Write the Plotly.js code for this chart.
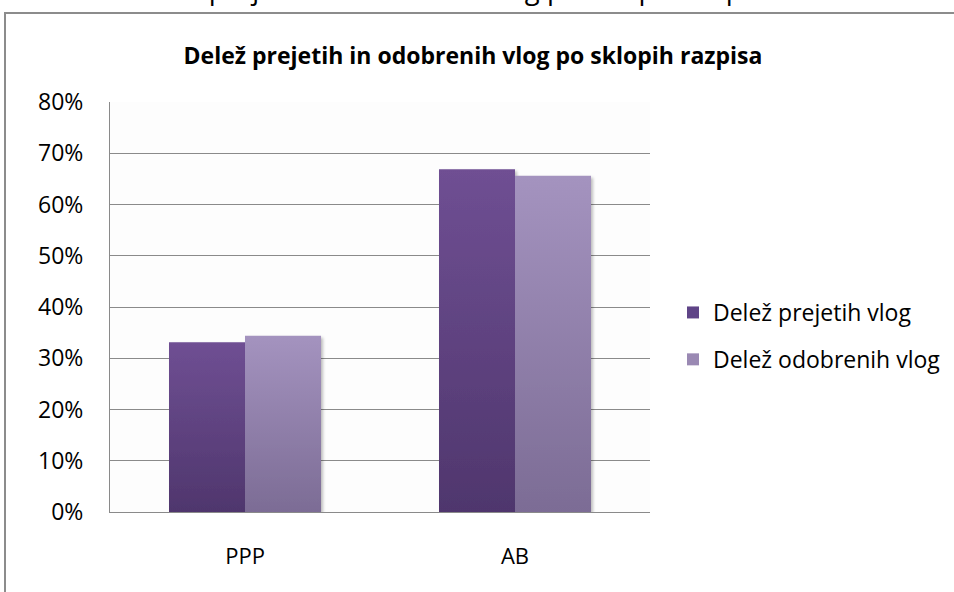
<!DOCTYPE html>
<html>
<head>
<meta charset="utf-8">
<script src="https://cdn.plot.ly/plotly-3.0.1.min.js"></script>
<style>
  html, body { margin: 0; padding: 0; background: #ffffff; }
  #chart { width: 954px; height: 592px; }
</style>
</head>
<body>
<div id="chart"></div>
<script>
// ---- data ----
const categories = ['PPP', 'AB'];
const seriesNames = ['Delež prejetih vlog', 'Delež odobrenih vlog'];
const prejete = [33.1, 66.9];
const odobrene = [34.4, 65.6];
const titleText = 'Delež prejetih in odobrenih vlog po sklopih razpisa';
const yTicks = [0, 10, 20, 30, 40, 50, 60, 70, 80];
const yTickLabels = ['0%', '10%', '20%', '30%', '40%', '50%', '60%', '70%', '80%'];

const FONT = 'Open Sans, DejaVu Sans, sans-serif';
const W = 954, H = 592;
const L = 110, R = 650, T = 102, B = 512;
const pw = R - L, ph = B - T;
const px = x => (x - L) / pw;
const py = y => (B - y) / ph;

const data = [
  { type: 'bar', name: seriesNames[0], x: categories, y: prejete,
    marker: { color: '#5f4487', line: { width: 0 } }, legendgroup: 'a', hoverinfo: 'x+y' },
  { type: 'bar', name: seriesNames[1], x: categories, y: odobrene,
    marker: { color: '#9a89b3', line: { width: 0 } }, legendgroup: 'b', hoverinfo: 'x+y' }
];

const layout = {
  width: W, height: H,
  margin: { l: L, r: W - R, t: T, b: H - B, pad: 0, autoexpand: false },
  paper_bgcolor: '#ffffff',
  plot_bgcolor: '#fdfdfd',
  font: { family: FONT, color: '#000000', size: 23 },
  title: {
    text: '<b>' + titleText + '</b>',
    font: { family: FONT, size: 23, color: '#000000' },
    x: 473 / W, xanchor: 'center', xref: 'container',
    y: 1 - 56 / H, yanchor: 'middle', yref: 'container'
  },
  barmode: 'group',
  bargap: 0.437,
  bargroupgap: 0,
  showlegend: true,
  legend: {
    x: px(673), xanchor: 'left', y: py(336), yanchor: 'middle',
    font: { family: FONT, size: 23, color: '#000000' },
    traceorder: 'grouped', tracegroupgap: 14,
    itemwidth: 30,
    bgcolor: 'rgba(0,0,0,0)', borderwidth: 0
  },
  xaxis: {
    type: 'category',
    showgrid: false, zeroline: false,
    showline: true, linecolor: '#8a8a8a', linewidth: 1,
    ticks: '', ticklabelstandoff: 25,
    tickfont: { family: FONT, size: 22, color: '#000000' },
    fixedrange: true
  },
  yaxis: {
    range: [0, 80], tickmode: 'array', tickvals: yTicks, ticktext: yTickLabels,
    showgrid: true, gridcolor: '#8a8a8a', gridwidth: 1,
    zeroline: false,
    showline: true, linecolor: '#8a8a8a', linewidth: 1,
    ticks: '', ticklabelstandoff: 21,
    tickfont: { family: FONT, size: 23, color: '#000000' },
    fixedrange: true
  },
  shapes: [
    { type: 'rect', xref: 'paper', yref: 'paper',
      x0: px(5), x1: px(970), y0: py(13), y1: py(610),
      line: { color: '#8c8c8c', width: 2 }, fillcolor: 'rgba(0,0,0,0)', layer: 'below' }
  ],
  annotations: [
    { text: titleText, xref: 'paper', yref: 'paper', x: px(454), y: 1,
      xanchor: 'center', yanchor: 'bottom', yshift: 93, showarrow: false,
      font: { family: FONT, size: 27.5, color: '#000000' } }
  ]
};

Plotly.newPlot('chart', data, layout, { staticPlot: true, displayModeBar: false }).then(gd => {
  const ns = 'http://www.w3.org/2000/svg';
  const svg = gd.querySelector('svg.main-svg');
  let defs = svg.querySelector('defs');
  if (!defs) { defs = document.createElementNS(ns, 'defs'); svg.insertBefore(defs, svg.firstChild); }
  const grads = [['#6f4f93', '#4f366d'], ['#a493bf', '#7c6c95']];
  grads.forEach((g, i) => {
    const lg = document.createElementNS(ns, 'linearGradient');
    lg.setAttribute('id', 'bargrad' + i);
    lg.setAttribute('x1', '0'); lg.setAttribute('y1', '0');
    lg.setAttribute('x2', '0'); lg.setAttribute('y2', '1');
    [[0, g[0]], [1, g[1]]].forEach(s => {
      const st = document.createElementNS(ns, 'stop');
      st.setAttribute('offset', s[0]); st.setAttribute('stop-color', s[1]);
      lg.appendChild(st);
    });
    defs.appendChild(lg);
  });
  const f = document.createElementNS(ns, 'filter');
  f.setAttribute('id', 'barshadow');
  f.setAttribute('x', '-10%'); f.setAttribute('y', '-10%');
  f.setAttribute('width', '130%'); f.setAttribute('height', '130%');
  const ds = document.createElementNS(ns, 'feDropShadow');
  ds.setAttribute('dx', '2'); ds.setAttribute('dy', '2');
  ds.setAttribute('stdDeviation', '1.5');
  ds.setAttribute('flood-color', '#000'); ds.setAttribute('flood-opacity', '0.25');
  f.appendChild(ds); defs.appendChild(f);
  gd.querySelectorAll('.barlayer .trace.bars').forEach((tr, i) => {
    tr.querySelectorAll('.point path').forEach(p => {
      p.style.fill = 'url(#bargrad' + i + ')';
      p.setAttribute('filter', 'url(#barshadow)');
    });
  });
});
</script>
</body>
</html>
